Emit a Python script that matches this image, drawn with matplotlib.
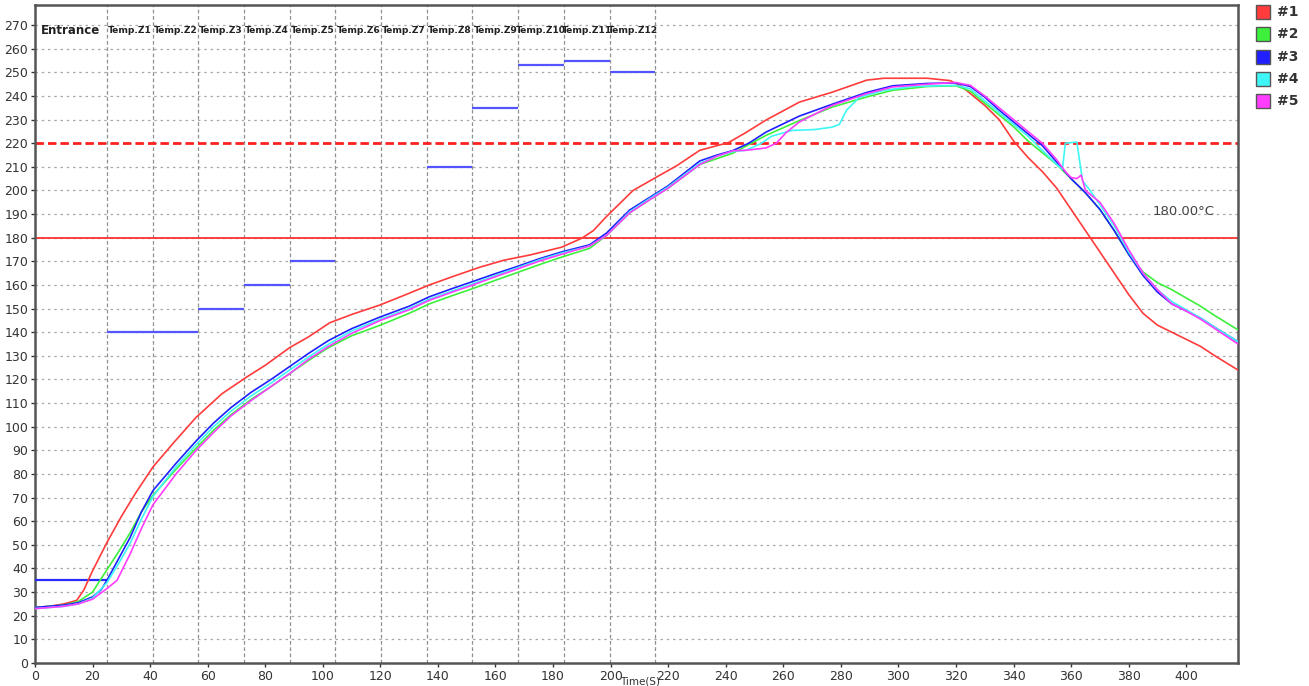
import matplotlib
matplotlib.use("Agg")
import matplotlib.pyplot as plt
from matplotlib.patches import Rectangle

# ---------------- data ----------------
zone_labels = ["Entrance", "Temp.Z1", "Temp.Z2", "Temp.Z3", "Temp.Z4", "Temp.Z5", "Temp.Z6",
               "Temp.Z7", "Temp.Z8", "Temp.Z9", "Temp.Z10", "Temp.Z11", "Temp.Z12"]
zone_edges = [0, 25, 40.9, 56.8, 72.6, 88.5, 104.4, 120.3, 136.2, 152.0, 167.9, 183.8, 199.7, 215.6]
zone_setpoints = [35, 140, 140, 150, 160, 170, None, None, 210, 235, 253, 255, 250]

limit_dashed = 220
limit_solid = 180
limit_label = "180.00°C"

series_names = ["#1", "#2", "#3", "#4", "#5"]
series_colors = ["#ff3b3b", "#3cf03c", "#1f1fff", "#3ef6f6", "#ff3cff"]

t1 = [0, 5, 10, 14.5, 17, 20, 25, 30, 35, 41, 48, 56, 65, 73.5, 80, 88.5, 95, 102.4, 110, 119.8, 128, 137,
      145, 154.5, 163, 172, 183, 190, 194, 198.6, 207.8, 216, 223, 231, 241, 247, 254, 265.6, 277, 289,
      295, 310, 318, 322, 326, 330, 335, 340, 345, 350, 355, 360, 365, 370, 375, 380, 385, 390, 395,
      400, 405, 410, 418]
v1 = [23.5, 24, 25, 26.5, 31, 39, 51, 62, 72, 83, 93, 104, 114, 121, 126, 133.5, 138, 144, 147.5, 151.5, 155.5, 160,
      163.5, 167.5, 170.5, 172.7, 176, 179.8, 183, 189, 200, 205.7, 210.5, 217, 220.3, 224.5, 229.8, 237.4, 241.6, 246.7,
      247.5, 247.5, 246.5, 244, 240, 236, 230, 221, 214, 208, 201, 192, 183, 174, 165, 156, 148, 143, 140,
      137, 134, 130, 124]

t2 = [0, 5, 10, 15, 20, 25, 29, 33, 37, 41, 49, 56, 62, 68, 75, 82, 88.5, 95, 102, 110, 120, 130, 137, 145,
      151, 160, 167, 175, 183, 192.7, 198.6, 206.6, 213.5, 220, 231, 237, 242.5, 254, 265.6, 277, 289, 298,
      310, 320, 325, 330, 335, 340, 345, 350, 355, 360, 365, 370, 375, 380, 385, 390, 395, 400, 405, 410, 418]
v2 = [23.5, 24, 24.5, 26, 30, 39.5, 47, 55, 64, 71, 82, 91, 98.5, 105, 111.5, 117, 122.5, 128, 133.5, 138.5, 143, 148, 152, 155.5,
      158, 162, 165, 168.5, 171.8, 175.5, 181, 190.5, 196, 201, 211, 213.5, 215.8, 223.3, 229.6, 235.3, 239.6, 242.4,
      244, 244.3, 242, 237, 232, 227, 221, 216, 211, 205, 199, 192, 183, 173, 165.5, 161, 158, 154.5, 151, 147, 141]

t3 = [0, 5, 10, 15, 20, 23, 25, 29, 33, 37, 41, 49, 56, 62, 68, 75, 82, 88.5, 95, 102, 110, 120, 130, 137, 145,
      151, 160, 167, 175, 183, 192.7, 198.6, 206.6, 213.5, 220, 231, 237, 242.5, 248, 254, 265.6, 277, 289, 298,
      310, 320, 325, 330, 335, 340, 345, 350, 355, 360, 365, 370, 375, 380, 385, 390, 395, 400, 405, 410, 418]
v3 = [23.5, 24, 24.5, 25.5, 28, 31, 35, 44, 53, 64, 73, 84.5, 94, 101.5, 108, 114.5, 120, 125.5, 131, 136.5, 141.5, 146.5, 151, 155, 158.5,
      161, 164.8, 167.6, 171, 174, 177, 182, 191.7, 197, 202, 212.5, 215, 216.9, 220, 224.7, 231.5, 236.5, 241.5, 244.3,
      245.3, 245.5, 244, 239.5, 234, 229, 224, 219, 212, 205, 199, 192, 183, 173, 164, 157, 152, 149, 146, 142, 136]

t4 = [0, 5, 10, 15, 20, 25, 29, 33, 37, 41, 49, 56, 62, 68, 75, 82, 88.5, 95, 102, 110, 120, 130, 137, 145, 151,
      160, 167, 175, 183, 192.7, 198.6, 206.6, 213.5, 220, 231, 237, 242.5, 247, 252, 256, 263, 271, 277, 279.5,
      282, 286.5, 295, 305, 320, 325, 330, 335, 340, 345, 350, 355, 357, 358, 362, 364, 366, 370, 375, 380,
      385, 390, 395, 400, 405, 410, 418]
v4 = [23, 23.5, 24, 25, 27.5, 34, 42, 50.5, 61, 70.5, 83, 92.5, 100, 106.5, 113, 118.5, 124, 129.5, 135, 140.5, 145.5, 150, 154, 157.5, 160,
      164, 167, 170.5, 173.5, 176.5, 181, 191, 196.5, 201.5, 211.5, 214.5, 216.5, 217, 219.7, 223, 225.4, 225.8, 226.8, 228,
      234, 239.5, 242.4, 244, 244.5, 243, 238, 233, 228, 223, 217, 211, 209, 220, 220.5, 204, 201, 194, 185, 174,
      165, 158, 153, 149.5, 146, 142, 136]

t5 = [0, 5, 10, 15, 20, 25, 28.5, 33, 37, 41, 49, 56, 62, 68, 75, 82, 88.5, 95, 102, 110, 120, 130, 137, 145, 151,
      160, 167, 175, 183, 192.7, 198.6, 206.6, 213.5, 220, 231, 237, 242.5, 247, 254, 257.6, 261, 265.6, 277, 289,
      298, 310, 320, 325, 330, 335, 340, 345, 350, 355, 358, 360, 362, 363.5, 365, 370, 375, 380, 385, 390,
      395, 400, 405, 410, 418]
v5 = [23, 23.5, 24, 25, 27, 31.5, 35, 46, 57, 67, 80, 90, 97.5, 104.5, 111, 117, 122.5, 128.5, 134, 139.5, 145, 149.5, 153.5, 157, 159.5,
      163.5, 166.5, 170, 173, 176.5, 181, 190.5, 196, 201, 211, 214.5, 216.8, 217, 218, 220, 224.5, 229, 236, 241,
      243.8, 245, 245.7, 244.5, 240, 235, 230, 225, 220, 213, 208, 205.5, 205, 206.5, 200, 195, 186, 175, 165, 158,
      152, 149, 145.5, 141.5, 135]

series_t = [t1, t2, t3, t4, t5]
series_v = [v1, v2, v3, v4, v5]

x_ticks = list(range(0, 401, 20))
y_ticks = list(range(0, 271, 10))

# ---------------- figure ----------------
W, H = 1309, 686
fig = plt.figure(figsize=(W / 100, H / 100), dpi=100)
ax = fig.add_axes([35 / W, 1 - 663 / H, (1238 - 35) / W, (663 - 5) / H])
ax.set_xlim(0, 418)
ax.set_ylim(0, 278.5)

# grid
for y in y_ticks[1:]:
    ax.axhline(y, color="#a8a8a8", lw=0.9, ls=(0, (2, 3)), zorder=1)
for x in zone_edges[1:]:
    ax.axvline(x, color="#909090", lw=0.9, ls=(0, (3, 2)), zorder=1)

# zone labels & setpoints
for i, lab in enumerate(zone_labels):
    xc = (zone_edges[i] + zone_edges[i + 1]) / 2
    if i == 0:
        ax.text(xc, 267.5, lab, ha="center", va="center", fontsize=8.5, fontweight="bold",
                color="#222222", zorder=5)
    else:
        ax.text(xc, 267.5, lab, ha="center", va="center", fontsize=6.6, fontweight="bold",
                color="#222222", zorder=5)
    sp = zone_setpoints[i]
    if sp is not None:
        col = "#2a2aff" if i == 0 else "#5555ff"
        ax.plot([zone_edges[i], zone_edges[i + 1]], [sp, sp], color=col, lw=1.6, zorder=3,
                solid_capstyle="butt")

# limit lines
ax.axhline(limit_dashed, color="#ff2020", lw=2.0, ls=(0, (3, 1.5)), zorder=2)
ax.axhline(limit_solid, color="#ff3030", lw=1.3, zorder=2)
ax.text(399, 191, limit_label, ha="center", va="center", fontsize=9.5, color="#444444", zorder=5)

# curves
for t, v, c in zip(series_t, series_v, series_colors):
    ax.plot(t, v, color=c, lw=1.2, zorder=4)

# axes style
ax.set_xticks(x_ticks)
ax.set_yticks(y_ticks)
ax.tick_params(axis="both", labelsize=9, colors="#333333", length=3, width=1, pad=2)
for s in ax.spines.values():
    s.set_color("#555555")
    s.set_linewidth(1.8)

fig.text(640 / W, 0.0, "Time(S)", ha="center", va="bottom", fontsize=7.5, color="#333333")

# legend (outside, right)
for i, (name, c) in enumerate(zip(series_names, series_colors)):
    yc = 12 + i * 22.3
    fig.patches.append(Rectangle((1256 / W, 1 - (yc + 7) / H), 14 / W, 14 / H,
                                 transform=fig.transFigure, facecolor=c, edgecolor="#555555",
                                 lw=1.0, figure=fig))
    fig.text(1277 / W, 1 - yc / H, name, ha="left", va="center", fontsize=10, fontweight="bold",
             color="#333333")

fig.savefig("out.png", dpi=100)
